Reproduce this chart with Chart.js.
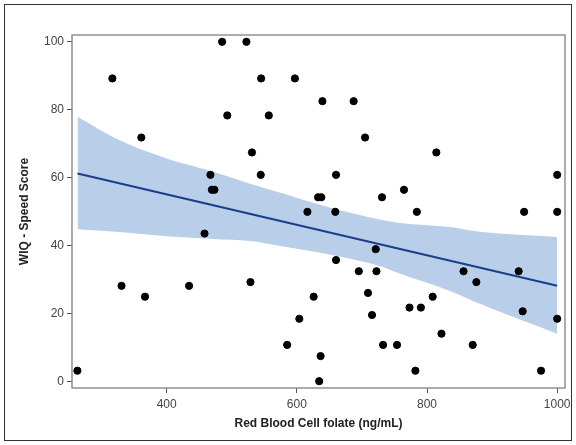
<!DOCTYPE html>
<html>
<head>
<meta charset="utf-8">
<script src="https://cdn.jsdelivr.net/npm/chart.js@4.4.0/dist/chart.umd.min.js"></script>
<style>
  html, body { margin: 0; padding: 0; background: #fff; }
  #wrap { width: 576px; height: 445px; }
</style>
</head>
<body>
<div id="wrap"><canvas id="chart" width="576" height="445"></canvas></div>
<script>
// folate (ng/mL) vs WIQ speed score
const folate = [262.8, 316.5, 330.6, 361, 366.7, 434.4, 458.1, 467.2, 469.4, 473.4,
  485.2, 493.1, 522.5, 528.7, 531, 545.1, 544.5, 556.9, 585.1, 597,
  603.8, 616.2, 625.8, 632.6, 637.6, 634.3, 636.5, 639.3, 659.1, 660.2,
  660.2, 687.3, 695.2, 704.8, 709.3, 715.5, 721.2, 722.3, 730.8, 732.5,
  753.9, 764.6, 773.1, 782.1, 784.4, 790.6, 808.7, 814.3, 822.2, 856.1,
  870.2, 875.8, 940.8, 947, 949.2, 975.2, 1000, 1000, 1000];
const speed = [3.1, 89.2, 28.1, 71.8, 24.9, 28.1, 43.5, 60.8, 56.4, 56.4,
  100, 78.3, 100, 29.2, 67.4, 89.2, 60.8, 78.3, 10.7, 89.2,
  18.4, 49.9, 24.9, 54.2, 54.2, 0, 7.4, 82.5, 49.9, 60.8,
  35.7, 82.5, 32.4, 71.8, 26, 19.5, 38.9, 32.4, 54.2, 10.7,
  10.7, 56.4, 21.7, 3.1, 49.9, 21.7, 24.9, 67.4, 14, 32.4,
  10.7, 29.2, 32.4, 20.6, 49.9, 3.1, 60.8, 49.9, 18.4];

// fitted line and its confidence band
const fitX = [263, 1000];
const fitY = [61.2, 28.1];
const bandX = [263, 322, 400, 472, 528, 579, 630, 682, 733, 758, 835, 881, 1000];
const bandUpper = [77.9, 71.5, 65.6, 61.7, 58.2, 55.3, 52.3, 49.6, 47.4, 46.6, 45.4, 44.0, 42.5];
const bandLower = [44.8, 44.0, 42.7, 41.9, 41.3, 39.7, 38.1, 36.1, 33.6, 31.7, 26.6, 22.8, 14.0];

const xTicks = [400, 600, 800, 1000];
const yTicks = [0, 20, 40, 60, 80, 100];

const pts = (xs, ys) => xs.map((x, i) => ({ x: x, y: ys[i] }));

// white page, outer frame and plot-area frame
const frames = {
  id: 'frames',
  beforeDraw(chart) {
    const ctx = chart.ctx;
    ctx.save();
    ctx.fillStyle = '#fff';
    ctx.fillRect(0, 0, chart.width, chart.height);
    ctx.strokeStyle = '#333';
    ctx.lineWidth = 1;
    ctx.strokeRect(4.5, 4.5, 567, 436);
    ctx.restore();
  },
  afterDraw(chart) {
    const a = chart.chartArea;
    const ctx = chart.ctx;
    ctx.save();
    ctx.strokeStyle = '#808080';
    ctx.lineWidth = 1.3;
    ctx.strokeRect(a.left, a.top, a.right - a.left, a.bottom - a.top);
    ctx.restore();
  }
};

const font = { family: '"Liberation Sans", Arial, sans-serif', size: 12 };

new Chart(document.getElementById('chart'), {
  type: 'scatter',
  data: {
    datasets: [
      {
        data: pts(folate, speed),
        backgroundColor: '#000',
        borderColor: '#000',
        pointRadius: 3.6,
        pointHoverRadius: 3.6
      },
      {
        type: 'line',
        data: pts(fitX, fitY),
        borderColor: '#1b3d8a',
        borderWidth: 2,
        pointRadius: 0,
        fill: false
      },
      {
        type: 'line',
        data: pts(bandX, bandLower),
        borderWidth: 0,
        borderColor: 'rgba(0,0,0,0)',
        pointRadius: 0,
        cubicInterpolationMode: 'monotone',
        fill: false
      },
      {
        type: 'line',
        data: pts(bandX, bandUpper),
        borderWidth: 0,
        borderColor: 'rgba(0,0,0,0)',
        backgroundColor: '#b9cfe9',
        pointRadius: 0,
        cubicInterpolationMode: 'monotone',
        fill: '-1'
      }
    ]
  },
  options: {
    responsive: false,
    animation: false,
    layout: { padding: { top: 35, right: 11, bottom: 0, left: 0 } },
    plugins: { legend: { display: false }, tooltip: { enabled: false } },
    scales: {
      x: {
        type: 'linear',
        min: 254.5,
        max: 1012,
        afterBuildTicks: s => { s.ticks = xTicks.map(v => ({ value: v })); },
        afterFit: s => { s.height = 57; },
        border: { display: false },
        grid: { drawOnChartArea: false, drawTicks: true, tickLength: 5, color: '#555' },
        ticks: { color: '#444', font: font, padding: 4, maxRotation: 0, callback: v => String(v) },
        title: {
          display: true,
          text: 'Red Blood Cell folate (ng/mL)',
          color: '#222',
          font: { family: font.family, size: 12, weight: 'bold' },
          padding: { top: 0, bottom: 14 }
        }
      },
      y: {
        type: 'linear',
        min: -2,
        max: 102,
        afterBuildTicks: s => { s.ticks = yTicks.map(v => ({ value: v })); },
        afterFit: s => { s.width = 72; },
        border: { display: false },
        grid: { drawOnChartArea: false, drawTicks: true, tickLength: 5, color: '#555' },
        ticks: { color: '#444', font: font, padding: 3, callback: v => String(v) },
        title: {
          display: true,
          text: 'WIQ - Speed Score',
          color: '#222',
          font: { family: font.family, size: 12, weight: 'bold' },
          padding: { top: 17, bottom: 0 }
        }
      }
    }
  },
  plugins: [frames]
});
</script>
</body>
</html>
